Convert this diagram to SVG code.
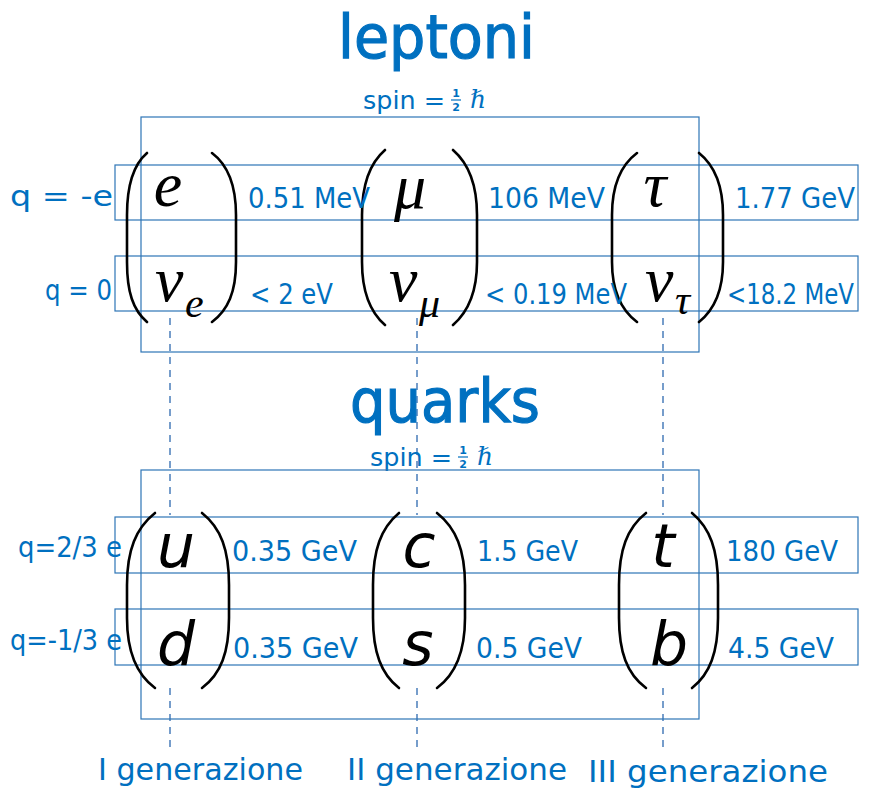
<svg xmlns="http://www.w3.org/2000/svg" width="875" height="789" viewBox="0 0 875 789">
<style>
.box{fill:none;stroke:#2E75B6;stroke-width:1.2}
.dash{fill:none;stroke:#4A7EBB;stroke-width:1.5;stroke-dasharray:7,6}
.par{fill:none;stroke:#000;stroke-width:2.6;stroke-linecap:round}
.title{font-family:"DejaVu Sans",sans-serif;font-size:60px;fill:#0070C0;stroke:#0070C0;stroke-width:1.2}
.lbl{font-family:"DejaVu Sans",sans-serif;font-size:28px;fill:#0070C0}
.spin{font-family:"DejaVu Sans",sans-serif;font-size:25px;fill:#0070C0}
.frac{font-family:"DejaVu Sans",sans-serif;font-weight:bold;font-size:11px;fill:#0070C0}
.fbar{stroke:#0070C0;stroke-width:1.2}
.hbar{font-family:"DejaVu Serif",serif;font-style:italic;font-size:25px;fill:#0070C0}
.lep{font-family:"Liberation Serif",serif;font-style:italic;font-size:64px;fill:#000}
.sub{font-family:"Liberation Serif",serif;font-style:italic;font-size:42px;fill:#000}
.qk{font-family:"DejaVu Sans",sans-serif;font-style:oblique;font-size:60px;fill:#000}
.gen{font-family:"DejaVu Sans",sans-serif;font-size:31px;fill:#0070C0}
</style>
<rect width="875" height="789" fill="#fff"/>
<g id="connectors">
<line class="dash" x1="170" y1="318" x2="170" y2="515"/>
<line class="dash" x1="170" y1="688" x2="170" y2="748"/>
<line class="dash" x1="417" y1="318" x2="417" y2="515"/>
<line class="dash" x1="417" y1="688" x2="417" y2="748"/>
<line class="dash" x1="663" y1="318" x2="663" y2="515"/>
<line class="dash" x1="663" y1="688" x2="663" y2="748"/>
</g>
<g id="leptoni">
<text class="title" x="338" y="58" textLength="197" lengthAdjust="spacingAndGlyphs">leptoni</text>
<text class="spin" x="363" y="109" textLength="82" lengthAdjust="spacingAndGlyphs">spin =</text>
<text class="frac" x="456" y="97" text-anchor="middle">1</text>
<line class="fbar" x1="451" y1="100" x2="461" y2="100"/>
<text class="frac" x="456" y="111" text-anchor="middle">2</text>
<text class="hbar" x="470" y="108">ℏ</text>
<rect class="box" x="141" y="117" width="558" height="235"/>
<rect class="box" x="115" y="165" width="743" height="55"/>
<rect class="box" x="115" y="256" width="743" height="55"/>
</g>
<g id="lepton-parens">
<path class="par" d="M147,153 C133,165 127,185 127,215 L127,262 C127,292 133,310 147,322"/>
<path class="par" d="M212,153 C228,165 236,185 236,215 L236,262 C236,292 228,310 212,322"/>
<path class="par" d="M385,150 C370,163 362,185 362,215 L362,262 C362,293 370,312 385,325"/>
<path class="par" d="M453,150 C468,163 477,185 477,215 L477,262 C477,293 468,312 453,325"/>
<path class="par" d="M637,153 C621,165 612,185 612,215 L612,262 C612,292 621,310 637,322"/>
<path class="par" d="M699,153 C714,165 723,185 723,215 L723,262 C723,292 714,310 699,322"/>
</g>
<g id="electron">
<text class="lep" x="168" y="206" text-anchor="middle">e</text>
<text class="lep" x="155" y="301">ν</text>
<text class="sub" x="185" y="317">e</text>
</g>
<g id="muon">
<text class="lep" x="410" y="208" text-anchor="middle">μ</text>
<text class="lep" x="389" y="301">ν</text>
<text class="sub" x="419" y="317">μ</text>
</g>
<g id="tau">
<text class="lep" x="655" y="206" text-anchor="middle">τ</text>
<text class="lep" x="645" y="301">ν</text>
<text class="sub" x="675" y="314">τ</text>
</g>
<g id="lepton-labels">
<text class="lbl" x="113" y="206" text-anchor="end" textLength="103" lengthAdjust="spacingAndGlyphs">q = -e</text>
<text class="lbl" x="112" y="300" text-anchor="end" textLength="67" lengthAdjust="spacingAndGlyphs">q = 0</text>
<text class="lbl" x="248" y="208" textLength="122" lengthAdjust="spacingAndGlyphs">0.51 MeV</text>
<text class="lbl" x="250" y="304" textLength="83" lengthAdjust="spacingAndGlyphs">&lt; 2 eV</text>
<text class="lbl" x="488" y="208" textLength="117" lengthAdjust="spacingAndGlyphs">106 MeV</text>
<text class="lbl" x="485" y="304" textLength="142" lengthAdjust="spacingAndGlyphs">&lt; 0.19 MeV</text>
<text class="lbl" x="727" y="304" textLength="127" lengthAdjust="spacingAndGlyphs">&lt;18.2 MeV</text>
<text class="lbl" x="735" y="208" textLength="120" lengthAdjust="spacingAndGlyphs">1.77 GeV</text>
</g>
<g id="quarks">
<text class="title" x="350" y="422" textLength="190" lengthAdjust="spacingAndGlyphs">quarks</text>
<text class="spin" x="370" y="466" textLength="82" lengthAdjust="spacingAndGlyphs">spin =</text>
<text class="frac" x="463" y="454" text-anchor="middle">1</text>
<line class="fbar" x1="458" y1="457" x2="468" y2="457"/>
<text class="frac" x="463" y="468" text-anchor="middle">2</text>
<text class="hbar" x="477" y="465">ℏ</text>
<rect class="box" x="141" y="470" width="558" height="249"/>
<rect class="box" x="115" y="517" width="743" height="56"/>
<rect class="box" x="115" y="609" width="743" height="56"/>
</g>
<g id="quark-parens">
<path class="par" d="M155,513 C136,528 127,550 127,585 L127,618 C127,652 136,674 155,688"/>
<path class="par" d="M202,513 C221,528 229,550 229,585 L229,618 C229,652 221,674 202,688"/>
<path class="par" d="M399,513 C381,528 373,550 373,585 L373,618 C373,652 381,674 399,688"/>
<path class="par" d="M437,513 C456,528 465,550 465,585 L465,618 C465,652 456,674 437,688"/>
<path class="par" d="M646,513 C627,528 619,550 619,585 L619,618 C619,652 627,674 646,688"/>
<path class="par" d="M692,513 C710,528 718,550 718,585 L718,618 C718,652 710,674 692,688"/>
</g>
<g id="gen1-quarks">
<text class="qk" x="176" y="567" text-anchor="middle">u</text>
<text class="qk" x="176" y="665" text-anchor="middle">d</text>
</g>
<g id="gen2-quarks">
<text class="qk" x="419" y="567" text-anchor="middle">c</text>
<text class="qk" x="418" y="665" text-anchor="middle">s</text>
</g>
<g id="gen3-quarks">
<text class="qk" x="663" y="567" text-anchor="middle">t</text>
<text class="qk" x="669" y="665" text-anchor="middle">b</text>
</g>
<g id="quark-labels">
<text class="lbl" x="122" y="557" text-anchor="end" textLength="104" lengthAdjust="spacingAndGlyphs">q=2/3 e</text>
<text class="lbl" x="122" y="650" text-anchor="end" textLength="112" lengthAdjust="spacingAndGlyphs">q=-1/3 e</text>
<text class="lbl" x="232" y="561" textLength="125" lengthAdjust="spacingAndGlyphs">0.35 GeV</text>
<text class="lbl" x="233" y="658" textLength="125" lengthAdjust="spacingAndGlyphs">0.35 GeV</text>
<text class="lbl" x="477" y="561" textLength="101" lengthAdjust="spacingAndGlyphs">1.5 GeV</text>
<text class="lbl" x="476" y="658" textLength="106" lengthAdjust="spacingAndGlyphs">0.5 GeV</text>
<text class="lbl" x="726" y="561" textLength="112" lengthAdjust="spacingAndGlyphs">180 GeV</text>
<text class="lbl" x="728" y="658" textLength="106" lengthAdjust="spacingAndGlyphs">4.5 GeV</text>
</g>
<g id="generations">
<text class="gen" x="98" y="780" textLength="205" lengthAdjust="spacingAndGlyphs">I generazione</text>
<text class="gen" x="347" y="780" textLength="220" lengthAdjust="spacingAndGlyphs">II generazione</text>
<text class="gen" x="588" y="782" textLength="240" lengthAdjust="spacingAndGlyphs">III generazione</text>
</g>
</svg>
